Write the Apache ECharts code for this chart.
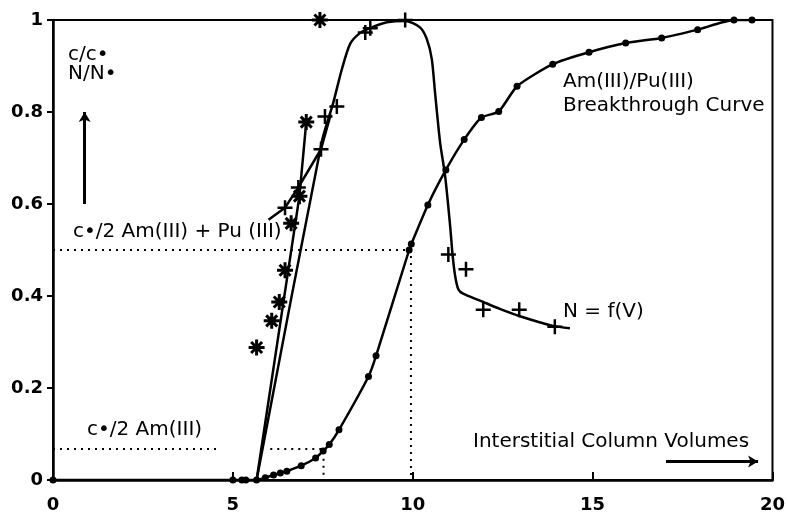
<!DOCTYPE html>
<html>
<head>
<meta charset="utf-8">
<script src="https://cdn.jsdelivr.net/npm/echarts@6/dist/echarts.min.js"></script>
<style>
html, body { margin: 0; padding: 0; background: #fff; }
#chart { width: 788px; height: 515px; }
</style>
</head>
<body>
<div id="chart"></div>
<script>
// Am(III)/Pu(III) breakthrough curve (dots)
const breakthrough = [
  [0, 0], [5.0, 0], [5.25, 0], [5.36, 0], [5.66, 0], [5.9, 0.005], [6.13, 0.011],
  [6.32, 0.015], [6.5, 0.019], [6.9, 0.031], [7.3, 0.048], [7.51, 0.063],
  [7.68, 0.077], [7.95, 0.109], [8.77, 0.225], [8.98, 0.27], [9.9, 0.5],
  [9.96, 0.513], [10.42, 0.598], [10.92, 0.674], [11.43, 0.74], [11.91, 0.788],
  [12.39, 0.801], [12.9, 0.856], [13.89, 0.904], [14.9, 0.93], [15.92, 0.95],
  [16.92, 0.961], [17.92, 0.979], [18.93, 1.0], [19.43, 1.0]
]
// N = f(V) fitted curve
const nCurve = [
  [5.66, 0], [7.47, 0.735], [7.79, 0.82], [8.03, 0.893], [8.26, 0.948],
  [8.54, 0.972], [8.86, 0.984], [9.28, 0.995], [9.79, 0.998], [10.2, 0.984],
  [10.39, 0.959], [10.53, 0.915], [10.62, 0.842], [10.76, 0.734], [10.9, 0.661],
  [11.04, 0.552], [11.11, 0.487], [11.18, 0.443], [11.27, 0.414], [11.4, 0.405],
  [11.87, 0.39], [12.42, 0.372], [12.98, 0.356], [13.9, 0.335], [14.37, 0.33]
]
const nBranch = [[5.99, 0.566], [6.45, 0.592], [6.82, 0.636], [7.45, 0.719], [7.72, 0.795]]
const starLine = [[5.66, 0], [6.85, 0.617], [7.04, 0.778]]
const stars = [
  [5.66, 0.288], [6.08, 0.346], [6.29, 0.387], [6.45, 0.456],
  [6.62, 0.558], [6.85, 0.617], [7.04, 0.778], [7.42, 1.0]
]
const crosses = [
  [6.45, 0.592], [6.82, 0.636], [7.45, 0.719], [7.56, 0.79], [7.89, 0.812],
  [8.68, 0.973], [8.82, 0.982], [9.79, 1.0], [10.99, 0.49], [11.48, 0.458],
  [11.96, 0.37], [12.96, 0.37], [13.95, 0.333]
]
// dotted guide lines (c0/2 levels)
const halfTotal = [[0, 0.5], [9.95, 0.5], [9.95, 0]]
const halfAmLeft = [[0, 0.0675], [4.6, 0.0675]]
const halfAmRight = [[6.04, 0.0675], [7.52, 0.0675], [7.52, 0]]

const STAR = 'path://M8 0L8 16M0 8L16 8M2.5 2.5L13.5 13.5M2.5 13.5L13.5 2.5'
const CROSS = 'path://M7.5 0L7.5 15M0 7.5L15 7.5'
const FONT = '20px "DejaVu Sans"'

const chart = echarts.init(document.getElementById('chart'))

function dotted(data) {
  return {
    type: 'line', data, symbol: 'none', silent: true, z: 1,
    lineStyle: { color: '#000', width: 2, type: [2, 5] },
  }
}

function txt(x, y, text) {
  return {
    type: 'text', x, y,
    style: { text, font: FONT, fill: '#000', verticalAlign: 'middle' },
  }
}

chart.setOption({
  animation: false,
  grid: {
    left: 53, right: 15, top: 20, bottom: 35,
    show: true, borderColor: '#000', borderWidth: 2,
  },
  xAxis: {
    type: 'value', min: 0, max: 20, interval: 5,
    axisLine: { lineStyle: { color: '#000', width: 2.5 } },
    axisTick: { inside: true, length: 8, lineStyle: { width: 2 } },
    axisLabel: { color: '#000', fontFamily: 'DejaVu Sans', fontWeight: 'bold', fontSize: 18, margin: 16 },
    splitLine: { show: false },
  },
  yAxis: {
    type: 'value', min: 0, max: 1, interval: 0.2,
    axisLine: { lineStyle: { color: '#000', width: 2.5 } },
    axisTick: { inside: false, length: 6, lineStyle: { width: 2 } },
    axisLabel: { color: '#000', fontFamily: 'DejaVu Sans', fontWeight: 'bold', fontSize: 18, margin: 10 },
    splitLine: { show: false },
  },
  series: [
    dotted(halfTotal),
    dotted(halfAmLeft),
    dotted(halfAmRight),
    {
      type: 'line', data: breakthrough, smooth: 0.2,
      symbol: 'circle', symbolSize: 7, showAllSymbol: true,
      itemStyle: { color: '#000' },
      lineStyle: { color: '#000', width: 2.5 },
    },
    {
      type: 'line', data: nCurve, smooth: 0.25, symbol: 'none',
      lineStyle: { color: '#000', width: 2.5 },
    },
    {
      type: 'line', data: nBranch, symbol: 'none',
      lineStyle: { color: '#000', width: 2.5 },
    },
    {
      type: 'line', data: starLine, symbol: 'none',
      lineStyle: { color: '#000', width: 2.5 },
    },
    {
      type: 'scatter', data: stars, symbol: STAR, symbolSize: 16,
      itemStyle: { color: '#000', borderColor: '#000', borderWidth: 3, opacity: 1 },
    },
    {
      type: 'scatter', data: crosses, symbol: CROSS, symbolSize: 15,
      itemStyle: { color: '#000', borderColor: '#000', borderWidth: 2.5, opacity: 1 },
    },
    {
      type: 'line', data: [], silent: true,
      markLine: {
        silent: true, symbol: ['none', 'arrow'], symbolSize: [9, 10],
        label: { show: false },
        lineStyle: { color: '#000', width: 3, type: 'solid' },
        data: [
          [{ coord: [0.88, 0.6] }, { coord: [0.88, 0.8] }],
          [{ coord: [17.04, 0.04] }, { coord: [19.6, 0.04] }],
        ],
      },
    },
  ],
  graphic: [
    txt(68, 55, 'c/c•'),
    txt(68, 74, 'N/N•'),
    txt(73, 232, 'c•/2 Am(III) + Pu (III)'),
    txt(87, 430, 'c•/2 Am(III)'),
    txt(563, 82, 'Am(III)/Pu(III)'),
    txt(563, 106, 'Breakthrough Curve'),
    txt(563, 312, 'N = f(V)'),
    txt(473, 442, 'Interstitial Column Volumes'),
  ],
})
</script>
</body>
</html>
